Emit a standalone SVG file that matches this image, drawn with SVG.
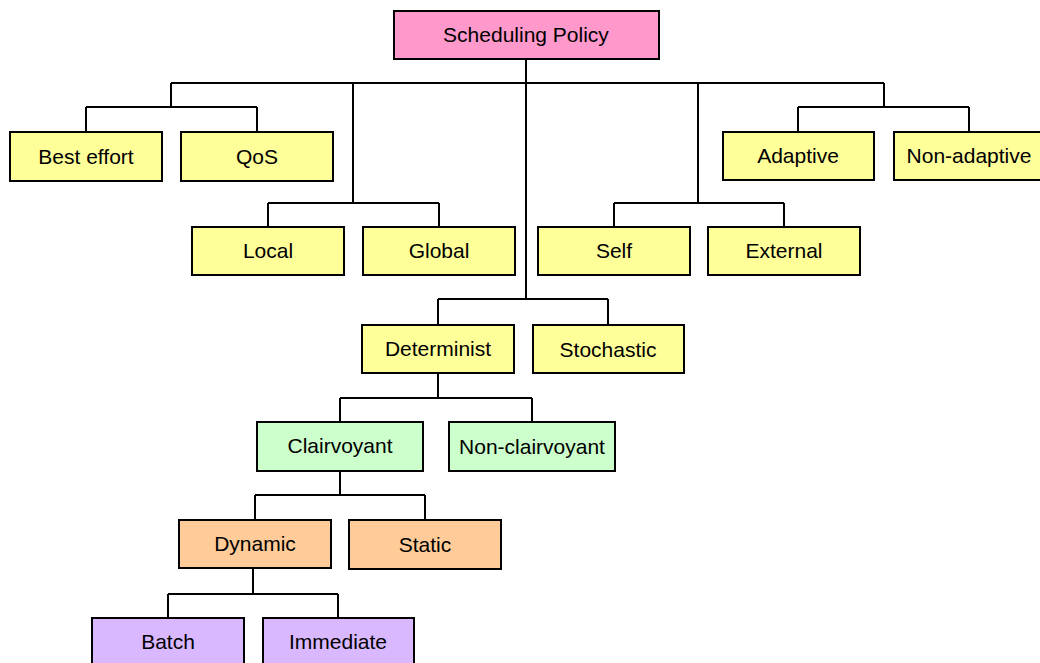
<svg xmlns="http://www.w3.org/2000/svg" width="1040" height="663" viewBox="0 0 1040 663">
  <style>
    .box { stroke: #000; stroke-width: 2; }
    .root { fill: #FF99CC; }
    .yel { fill: #FFFF99; }
    .grn { fill: #CCFFCC; }
    .org { fill: #FFCC99; }
    .pur { fill: #D9B8FF; }
    .lbl { font-family: "Liberation Sans", Arial, sans-serif; font-size: 21px; fill: #000; text-anchor: middle; dominant-baseline: central; }
    .wire { fill: none; stroke: #000; stroke-width: 2; }
  </style>
  <rect width="1040" height="663" fill="#fff"/>

  <!-- connectors -->
  <g id="connectors" class="wire">
    <path d="M526 59 V299"/>
    <path d="M171 83 H884"/>
    <path d="M171 83 V107 M86 107 H257 M86 107 V132 M257 107 V132"/>
    <path d="M353 83 V203 M268 203 H439 M268 203 V227 M439 203 V227"/>
    <path d="M698 83 V203 M614 203 H784 M614 203 V227 M784 203 V227"/>
    <path d="M884 83 V107 M798 107 H969 M798 107 V132 M969 107 V132"/>
    <path d="M438 299 H608 M438 299 V325 M608 299 V325"/>
    <path d="M438 373 V398 M340 398 H532 M340 398 V422 M532 398 V422"/>
    <path d="M340 471 V495 M255 495 H425 M255 495 V520 M425 495 V520"/>
    <path d="M253 568 V594 M168 594 H338 M168 594 V618 M338 594 V618"/>
  </g>

  <g id="scheduling-policy"><rect class="box root" x="394" y="11" width="265" height="48"/><text class="lbl" x="526" y="34">Scheduling Policy</text></g>

  <g id="best-effort"><rect class="box yel" x="10" y="132" width="152" height="49"/><text class="lbl" x="86" y="156">Best effort</text></g>
  <g id="qos"><rect class="box yel" x="181" y="132" width="152" height="49"/><text class="lbl" x="257" y="156">QoS</text></g>
  <g id="adaptive"><rect class="box yel" x="723" y="132" width="151" height="48"/><text class="lbl" x="798" y="155">Adaptive</text></g>
  <g id="non-adaptive"><rect class="box yel" x="894" y="132" width="152" height="48"/><text class="lbl" x="969" y="155">Non-adaptive</text></g>

  <g id="local"><rect class="box yel" x="192" y="227" width="152" height="48"/><text class="lbl" x="268" y="250">Local</text></g>
  <g id="global"><rect class="box yel" x="363" y="227" width="152" height="48"/><text class="lbl" x="439" y="250">Global</text></g>
  <g id="self"><rect class="box yel" x="538" y="227" width="152" height="48"/><text class="lbl" x="614" y="250">Self</text></g>
  <g id="external"><rect class="box yel" x="708" y="227" width="152" height="48"/><text class="lbl" x="784" y="250">External</text></g>

  <g id="determinist"><rect class="box yel" x="362" y="325" width="152" height="48"/><text class="lbl" x="438" y="348">Determinist</text></g>
  <g id="stochastic"><rect class="box yel" x="533" y="325" width="151" height="48"/><text class="lbl" x="608" y="349">Stochastic</text></g>

  <g id="clairvoyant"><rect class="box grn" x="257" y="422" width="166" height="49"/><text class="lbl" x="340" y="445">Clairvoyant</text></g>
  <g id="non-clairvoyant"><rect class="box grn" x="449" y="422" width="166" height="49"/><text class="lbl" x="532" y="446">Non-clairvoyant</text></g>

  <g id="dynamic"><rect class="box org" x="179" y="520" width="152" height="48"/><text class="lbl" x="255" y="543">Dynamic</text></g>
  <g id="static"><rect class="box org" x="349" y="520" width="152" height="49"/><text class="lbl" x="425" y="544">Static</text></g>

  <g id="batch"><rect class="box pur" x="92" y="618" width="152" height="60"/><text class="lbl" x="168" y="641">Batch</text></g>
  <g id="immediate"><rect class="box pur" x="263" y="618" width="151" height="60"/><text class="lbl" x="338" y="641">Immediate</text></g>
</svg>
